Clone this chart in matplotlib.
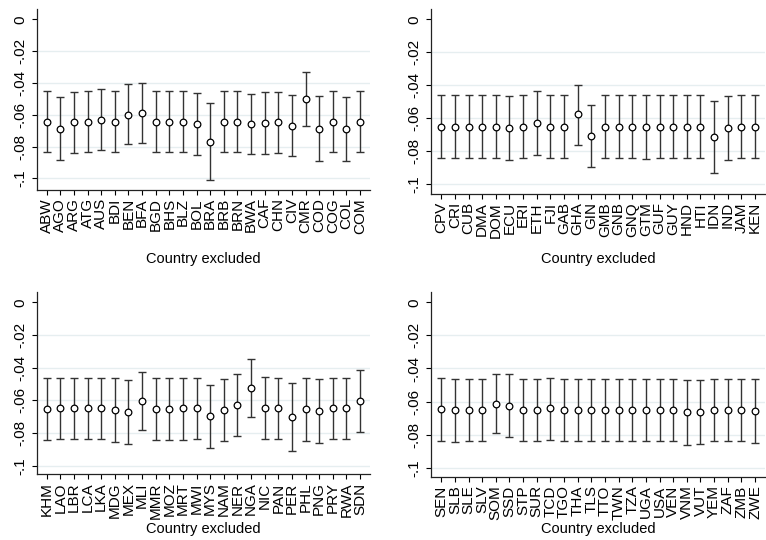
import matplotlib
matplotlib.use("Agg")
import matplotlib.pyplot as plt
import numpy as np

plt.rcParams['font.family'] = ['Liberation Sans', 'DejaVu Sans']

# panel 1
names1 = ["ABW", "AGO", "ARG", "ATG", "AUS", "BDI", "BEN", "BFA", "BGD", "BHS", "BLZ", "BOL",
          "BRA", "BRB", "BRN", "BWA", "CAF", "CHN", "CIV", "CMR", "COD", "COG", "COL", "COM"]
est1 = [-0.0644, -0.0688, -0.0649, -0.0646, -0.0632, -0.0646, -0.0600, -0.0590, -0.0646, -0.0646, -0.0646, -0.0659,
        -0.0770, -0.0646, -0.0646, -0.0659, -0.0655, -0.0649, -0.0669, -0.0504, -0.0688, -0.0646, -0.0688, -0.0644]
lo1 = [-0.0837, -0.0885, -0.0841, -0.0837, -0.0824, -0.0837, -0.0787, -0.0778, -0.0837, -0.0837, -0.0837, -0.0854,
       -0.1013, -0.0837, -0.0837, -0.0849, -0.0847, -0.0841, -0.0860, -0.0674, -0.0889, -0.0837, -0.0889, -0.0837]
hi1 = [-0.0452, -0.0490, -0.0456, -0.0452, -0.0439, -0.0452, -0.0410, -0.0402, -0.0452, -0.0452, -0.0452, -0.0464,
       -0.0527, -0.0452, -0.0452, -0.0469, -0.0460, -0.0456, -0.0479, -0.0330, -0.0485, -0.0452, -0.0487, -0.0452]

# panel 2
names2 = ["CPV", "CRI", "CUB", "DMA", "DOM", "ECU", "ERI", "ETH", "FJI", "GAB", "GHA", "GIN",
          "GMB", "GNB", "GNQ", "GTM", "GUF", "GUY", "HND", "HTI", "IDN", "IND", "JAM", "KEN"]
est2 = [-0.0653, -0.0651, -0.0651, -0.0651, -0.0651, -0.0659, -0.0651, -0.0632, -0.0653, -0.0653, -0.0578, -0.0707,
        -0.0651, -0.0651, -0.0653, -0.0653, -0.0651, -0.0651, -0.0651, -0.0651, -0.0713, -0.0659, -0.0651, -0.0651]
lo2 = [-0.0844, -0.0844, -0.0844, -0.0844, -0.0844, -0.0855, -0.0844, -0.0822, -0.0844, -0.0844, -0.0762, -0.0895,
       -0.0844, -0.0844, -0.0844, -0.0846, -0.0844, -0.0844, -0.0844, -0.0844, -0.0931, -0.0855, -0.0844, -0.0844]
hi2 = [-0.0459, -0.0459, -0.0459, -0.0459, -0.0459, -0.0467, -0.0459, -0.0438, -0.0459, -0.0459, -0.0396, -0.0521,
       -0.0459, -0.0459, -0.0461, -0.0461, -0.0459, -0.0459, -0.0459, -0.0459, -0.0497, -0.0465, -0.0459, -0.0459]

# panel 3
names3 = ["KHM", "LAO", "LBR", "LCA", "LKA", "MDG", "MEX", "MLI", "MMR", "MOZ", "MRT", "MWI",
          "MYS", "NAM", "NER", "NGA", "NIC", "PAN", "PER", "PHL", "PNG", "PRY", "RWA", "SDN"]
est3 = [-0.0653, -0.0647, -0.0647, -0.0647, -0.0647, -0.0657, -0.0673, -0.0606, -0.0651, -0.0651, -0.0649, -0.0647,
        -0.0698, -0.0657, -0.0627, -0.0524, -0.0645, -0.0647, -0.0700, -0.0653, -0.0667, -0.0647, -0.0647, -0.0604]
lo3 = [-0.0845, -0.0839, -0.0839, -0.0839, -0.0839, -0.0853, -0.0865, -0.0782, -0.0843, -0.0843, -0.0841, -0.0839,
       -0.0894, -0.0849, -0.0816, -0.0700, -0.0835, -0.0839, -0.0908, -0.0849, -0.0861, -0.0839, -0.0839, -0.0796]
hi3 = [-0.0465, -0.0461, -0.0461, -0.0461, -0.0461, -0.0465, -0.0478, -0.0424, -0.0463, -0.0463, -0.0463, -0.0461,
       -0.0504, -0.0467, -0.0439, -0.0345, -0.0455, -0.0461, -0.0492, -0.0463, -0.0471, -0.0461, -0.0461, -0.0414]

# panel 4
names4 = ["SEN", "SLB", "SLE", "SLV", "SOM", "SSD", "STP", "SUR", "TCD", "TGO", "THA", "TLS",
          "TTO", "TWN", "TZA", "UGA", "USA", "VEN", "VNM", "VUT", "YEM", "ZAF", "ZMB", "ZWE"]
est4 = [-0.0646, -0.0653, -0.0651, -0.0651, -0.0612, -0.0626, -0.0651, -0.0651, -0.0642, -0.0651, -0.0651, -0.0651,
        -0.0651, -0.0651, -0.0651, -0.0651, -0.0651, -0.0651, -0.0665, -0.0663, -0.0651, -0.0651, -0.0651, -0.0659]
lo4 = [-0.0838, -0.0846, -0.0840, -0.0840, -0.0792, -0.0816, -0.0840, -0.0840, -0.0832, -0.0840, -0.0840, -0.0840,
       -0.0840, -0.0840, -0.0840, -0.0840, -0.0840, -0.0840, -0.0861, -0.0855, -0.0840, -0.0840, -0.0840, -0.0851]
hi4 = [-0.0457, -0.0463, -0.0461, -0.0461, -0.0432, -0.0436, -0.0461, -0.0461, -0.0455, -0.0461, -0.0461, -0.0461,
       -0.0461, -0.0461, -0.0461, -0.0461, -0.0461, -0.0461, -0.0467, -0.0469, -0.0461, -0.0461, -0.0461, -0.0465]

yticks = [0, -0.02, -0.04, -0.06, -0.08, -0.1]
ytick_labels = ["0", "-.02", "-.04", "-.06", "-.08", "-.1"]
xlabel = "Country excluded"

W, H = 766, 540
fig = plt.figure(figsize=(W / 100, H / 100), dpi=100)
fig.patch.set_facecolor("white")

YMAX = 0.0065

# (left px, right px, y px of 0, y px of -0.1, y min, xlabel y px)
boxes = [(36.7, 370, 19.3, 178.3, -0.1074, 259),
         (431.3, 765, 19.3, 184.0, -0.1061, 259),
         (36.7, 370, 302.3, 465.7, -0.1053, 529),
         (431.3, 765, 302.3, 467.7, -0.1058, 529)]

panels = [(names1, est1, lo1, hi1), (names2, est2, lo2, hi2),
          (names3, est3, lo3, hi3), (names4, est4, lo4, hi4)]

for (l, r, y0, y1, ymin, ly), (nm, est, lo, hi) in zip(boxes, panels):
    s = (y1 - y0) / 0.1
    top = y0 - YMAX * s
    bot = y0 - ymin * s
    ax = fig.add_axes([l / W, 1 - bot / H, (r - l) / W, (bot - top) / H])
    x = np.arange(1, len(nm) + 1)
    est = np.array(est)
    err = [est - np.array(lo), np.array(hi) - est]
    ax.errorbar(x, est, yerr=err, fmt="none", ecolor="#333333", elinewidth=1.0,
                capsize=2.6, capthick=1.0, zorder=2)
    ax.plot(x, est, "o", mfc="white", mec="black", mew=0.9, ms=4.8, zorder=3)
    for g in yticks[1:]:
        ax.axhline(g, color="#e6eef0", lw=1.0, zorder=0)
    ax.set_xlim(0.27, len(nm) + 0.73)
    ax.set_ylim(ymin, YMAX)
    ax.set_yticks(yticks)
    ax.set_yticklabels(ytick_labels, rotation=90, va="center", fontsize=11)
    ax.set_xticks(x)
    ax.set_xticklabels(nm, rotation=90, fontsize=11)
    ax.tick_params(axis="both", length=3.8, width=0.8, color="black")
    ax.tick_params(axis="x", pad=2)
    ax.tick_params(axis="y", pad=3)
    for side in ("top", "right"):
        ax.spines[side].set_visible(False)
    for side in ("left", "bottom"):
        ax.spines[side].set_linewidth(0.9)
        ax.spines[side].set_color("#222222")
    fig.text((l + r) / 2 / W, 1 - ly / H, xlabel, ha="center", va="center", fontsize=10.5)

fig.savefig("out.png", dpi=100, facecolor="white")
